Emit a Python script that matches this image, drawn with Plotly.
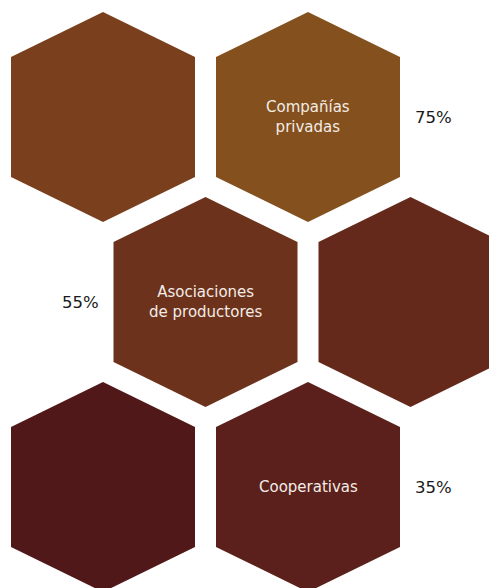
import plotly.graph_objects as go

# Data
categories = ["Compañías<br>privadas", "Asociaciones<br>de productores", "Cooperativas"]
values = [75, 55, 35]
value_labels = [f"{v}%" for v in values]

# hex grid cells (row, col) for all hexagons, and their colours
hex_rows = [0, 0, 1, 1, 2, 2]
hex_cols = [0, 1, 0, 1, 0, 1]
hex_colors = ["#7a3f1d", "#83501e", "#6c321c", "#65291c", "#501818", "#5b201b"]
# which hexagon carries which category, and which side the value sits on
label_hex = [1, 2, 5]
value_side = [1, -1, 1]

# geometry (pixel units)
W, H = 497, 588
OFF = 8  # page body margin in the browser
x0, y0 = 103, 117
pitch_x, pitch_y = 205, 185
hw, hh, sh = 92, 105, 60


def center(r, c):
    return x0 + c * pitch_x + (pitch_x / 2 if r % 2 else 0), y0 + r * pitch_y


fig = go.Figure()
for r, c, col in zip(hex_rows, hex_cols, hex_colors):
    cx, cy = center(r, c)
    xs = [cx, cx + hw, cx + hw, cx, cx - hw, cx - hw, cx]
    ys = [cy - hh, cy - sh, cy + sh, cy + hh, cy + sh, cy - sh, cy - hh]
    fig.add_trace(go.Scatter(x=xs, y=ys, mode="lines", fill="toself",
                             fillcolor=col, line=dict(width=0, color=col),
                             hoverinfo="skip", showlegend=False))

for cat, lab, hi, side in zip(categories, value_labels, label_hex, value_side):
    cx, cy = center(hex_rows[hi], hex_cols[hi])
    fig.add_annotation(x=cx, y=cy, text=cat, showarrow=False,
                       font=dict(family="DejaVu Sans", size=15, color="#f3ece6"))
    fig.add_annotation(x=cx + side * 125, y=cy, text=lab, showarrow=False,
                       font=dict(family="DejaVu Sans", size=16.5, color="#1a1a1a"))

fig.update_layout(
    width=W, height=H, margin=dict(l=0, r=0, t=0, b=0),
    paper_bgcolor="white", plot_bgcolor="white",
    xaxis=dict(range=[OFF, W + OFF], visible=False, fixedrange=True),
    yaxis=dict(range=[H + OFF, OFF], visible=False, fixedrange=True),
)
fig.write_html("out.html")
